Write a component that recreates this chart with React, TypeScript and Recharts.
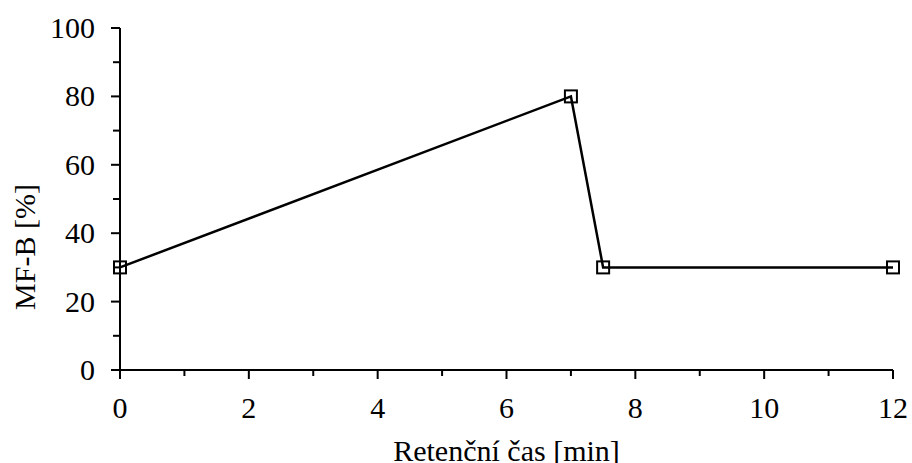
import { LineChart, Line, XAxis, YAxis } from "recharts";

const times = [0, 7, 7.5, 12];
const mfB = [30, 80, 30, 30];

const xTicks = [0, 1, 2, 3, 4, 5, 6, 7, 8, 9, 10, 11, 12];
const yTicks = [0, 10, 20, 30, 40, 50, 60, 70, 80, 90, 100];

const data = times.map((t, i) => ({ t, b: mfB[i] }));

const FONT = "'Liberation Serif', 'Times New Roman', serif";

function XTick(props: any) {
  const { x, y, payload } = props;
  const major = payload.value % 2 === 0;
  return (
    <g>
      <line x1={x} x2={x} y1={y} y2={y + (major ? 9 : 6)} stroke="#000" strokeWidth={2} />
      {major && (
        <text x={x} y={y + 48} textAnchor="middle" fontFamily={FONT} fontSize={30} fill="#000">
          {payload.value}
        </text>
      )}
    </g>
  );
}

function YTick(props: any) {
  const { x, y, payload } = props;
  const major = payload.value % 20 === 0;
  return (
    <g>
      <line x1={x - (major ? 9 : 7)} x2={x} y1={y} y2={y} stroke="#000" strokeWidth={2} />
      {major && (
        <text x={x - 25} y={y + 10} textAnchor="end" fontFamily={FONT} fontSize={30} fill="#000">
          {payload.value}
        </text>
      )}
    </g>
  );
}

function YTitle(props: any) {
  const vb = props.viewBox ?? { x: 0, y: 28, width: 120, height: 342 };
  const cx = vb.x + 35;
  const cy = vb.y + vb.height / 2 + 48;
  return (
    <text
      x={cx}
      y={cy}
      transform={`rotate(-90 ${cx} ${cy})`}
      textAnchor="middle"
      fontFamily={FONT}
      fontSize={30}
      fill="#000"
    >
      MF-B [%]
    </text>
  );
}

function XTitle(props: any) {
  const vb = props.viewBox ?? { x: 120, y: 370, width: 773, height: 93 };
  return (
    <text
      x={vb.x + vb.width / 2}
      y={vb.y + 91}
      textAnchor="middle"
      fontFamily={FONT}
      fontSize={30}
      fill="#000"
    >
      Retenční čas [min]
    </text>
  );
}

function SquareDot(props: any) {
  const { cx, cy, index } = props;
  return (
    <rect
      key={`sq-${index}`}
      x={cx - 6}
      y={cy - 6}
      width={12}
      height={12}
      fill="none"
      stroke="#000"
      strokeWidth={2}
    />
  );
}

export default function App() {
  return (
    <div style={{ position: "absolute", left: 0, top: 0, background: "#fff" }}>
      <LineChart
        width={912}
        height={463}
        data={data}
        margin={{ top: 28, right: 19, left: 0, bottom: 0 }}
      >
        <XAxis
          dataKey="t"
          type="number"
          domain={[0, 12]}
          ticks={xTicks}
          interval={0}
          height={93}
          tickSize={0}
          tickMargin={0}
          tickLine={false}
          axisLine={{ stroke: "#000", strokeWidth: 2 }}
          tick={<XTick />}
          label={<XTitle />}
        />
        <YAxis
          type="number"
          domain={[0, 100]}
          ticks={yTicks}
          interval={0}
          width={120}
          tickSize={0}
          tickMargin={0}
          tickLine={false}
          axisLine={{ stroke: "#000", strokeWidth: 2 }}
          tick={<YTick />}
          label={<YTitle />}
        />
        <Line
          dataKey="b"
          type="linear"
          stroke="#000"
          strokeWidth={2.5}
          dot={<SquareDot />}
          activeDot={false}
          isAnimationActive={false}
        />
      </LineChart>
    </div>
  );
}
